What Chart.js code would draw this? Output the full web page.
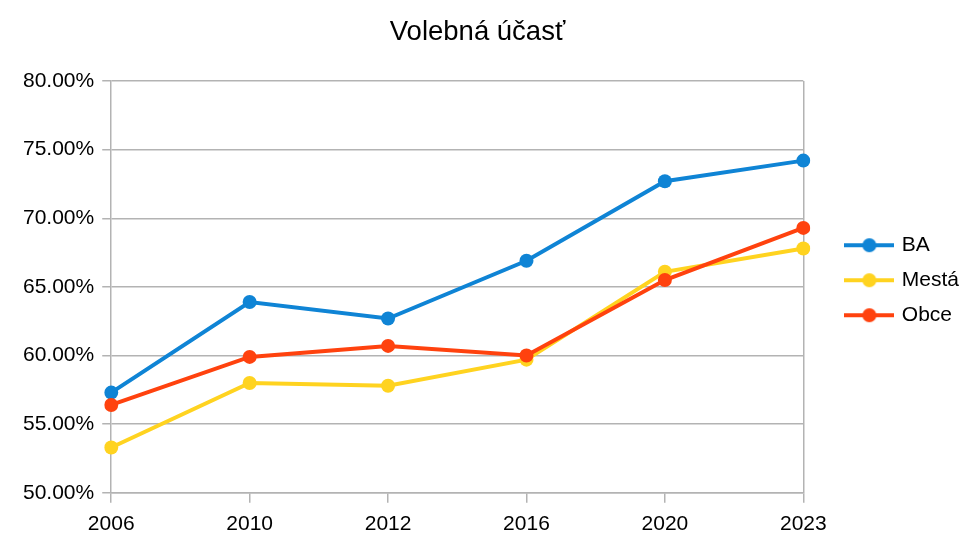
<!DOCTYPE html>
<html>
<head>
<meta charset="utf-8">
<script src="https://cdn.jsdelivr.net/npm/chart.js@4/dist/chart.umd.min.js"></script>
<style>
  html, body { margin: 0; padding: 0; background: #ffffff; }
  #wrap { width: 969px; height: 545px; }
</style>
</head>
<body>
<div id="wrap"><canvas id="c" width="969" height="545"></canvas></div>
<script>
const years = ['2006', '2010', '2012', '2016', '2020', '2023'];
const ba = [57.3, 63.9, 62.7, 66.9, 72.7, 74.2];
const mesta = [53.3, 58.0, 57.8, 59.7, 66.1, 67.8];
const obce = [56.4, 59.9, 60.7, 60.0, 65.5, 69.3];
const seriesNames = ['BA', 'Mestá', 'Obce'];
const colors = ['#0f84d5', '#ffd320', '#ff420e'];

function legendIcon(color) {
  const c = document.createElement('canvas');
  c.width = 50; c.height = 16;
  const g = c.getContext('2d');
  g.strokeStyle = color; g.lineWidth = 4;
  g.beginPath(); g.moveTo(0, 8); g.lineTo(50, 8); g.stroke();
  g.fillStyle = color;
  g.beginPath(); g.arc(25, 8, 7, 0, Math.PI * 2); g.fill();
  return c;
}

const font = "'Liberation Sans', Arial, sans-serif";
const grid = '#b3b3b3';

const datasets = [ba, mesta, obce].map((d, i) => ({
  label: seriesNames[i],
  data: d,
  borderColor: colors[i],
  backgroundColor: colors[i],
  borderWidth: 4,
  pointRadius: 7,
  pointHoverRadius: 7,
  pointBorderWidth: 0,
  pointStyle: 'circle',
  tension: 0,
  order: 3 - i
}));

new Chart(document.getElementById('c'), {
  type: 'line',
  data: { labels: years, datasets: datasets },
  options: {
    responsive: false,
    animation: false,
    layout: { padding: { left: -14, right: 0, top: 0, bottom: -1 } },
    plugins: {
      title: {
        display: true,
        text: 'Volebná účasť',
        color: '#000',
        font: { family: font, size: 27.5, weight: 'normal' },
        padding: { top: 16, bottom: 32 }
      },
      legend: {
        position: 'right',
        title: { display: true, text: ' ', color: '#000', font: { size: 12 }, padding: 0 },
        labels: {
          color: '#000',
          font: { family: font, size: 21 },
          usePointStyle: true,
          pointStyleWidth: 44,
          boxHeight: 16,
          padding: 14,
          generateLabels: (chart) => chart.data.datasets.map((ds, i) => ({
            text: ds.label,
            fontColor: '#000',
            pointStyle: legendIcon(ds.borderColor),
            fillStyle: ds.borderColor,
            strokeStyle: ds.borderColor,
            lineWidth: 0,
            hidden: false,
            datasetIndex: i
          }))
        }
      },
      tooltip: { enabled: false }
    },
    scales: {
      x: {
        offset: false,
        grid: {
          color: (ctx) => (ctx.index === years.length - 1 ? grid : 'rgba(0,0,0,0)'),
          tickColor: grid,
          tickLength: 10,
          lineWidth: 1.5
        },
        border: { color: grid, width: 1.5 },
        ticks: {
          color: '#000',
          font: { family: font, size: 21 },
          padding: 9,
          maxRotation: 0
        }
      },
      y: {
        min: 50,
        max: 80,
        grid: { color: grid, tickColor: grid, tickLength: 9, lineWidth: 1.5 },
        border: { color: grid, width: 1.5 },
        ticks: {
          stepSize: 5,
          color: '#000',
          font: { family: font, size: 21 },
          padding: 8,
          callback: (v) => v.toFixed(2) + '%'
        },
        afterFit: (s) => { s.width += 29; }
      },
      gap: {
        position: 'right',
        display: true,
        min: 0,
        max: 1,
        grid: { display: false },
        border: { display: false },
        ticks: { display: false },
        afterFit: (s) => { s.width = 30; }
      }
    }
  }
});
</script>
</body>
</html>
